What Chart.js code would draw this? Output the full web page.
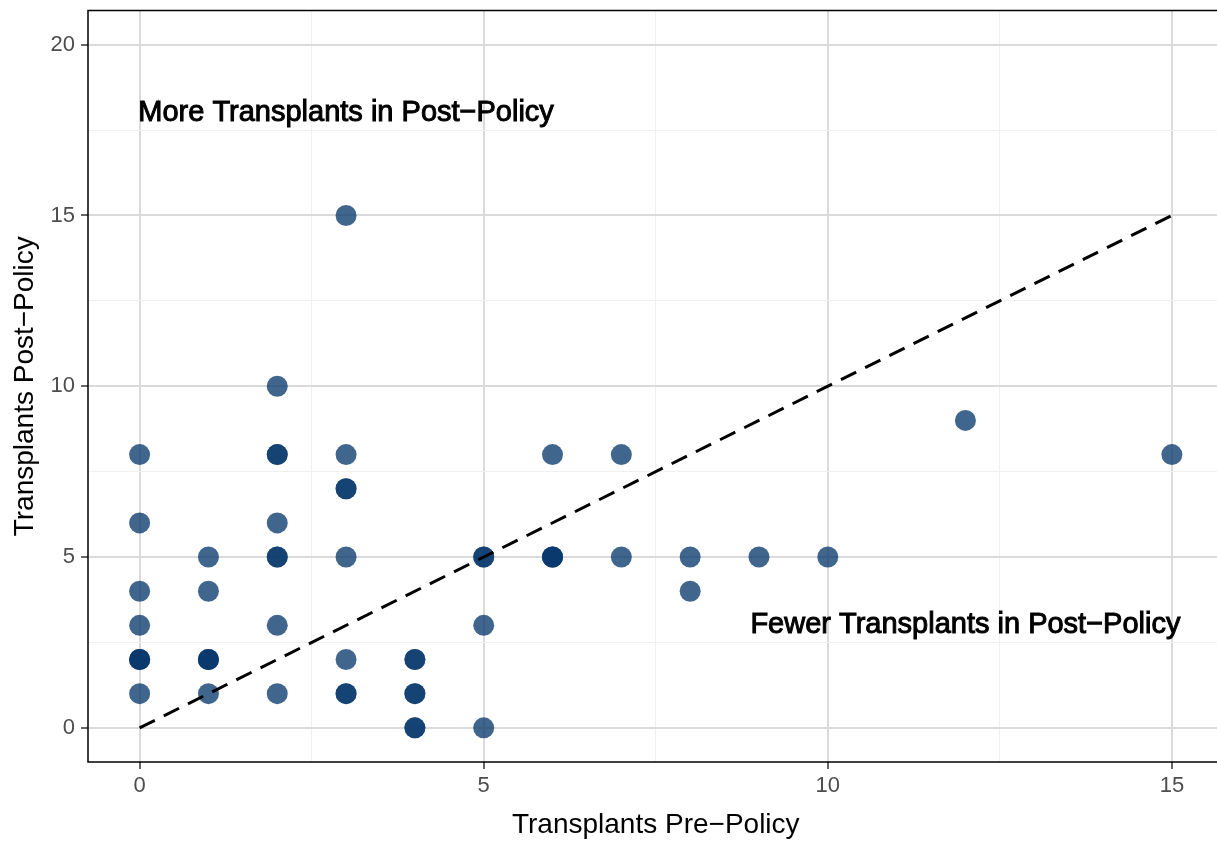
<!DOCTYPE html>
<html>
<head>
<meta charset="utf-8">
<script src="https://cdn.jsdelivr.net/npm/chart.js@4.4.1/dist/chart.umd.min.js"></script>
<style>
  html, body { margin: 0; padding: 0; background: #fff; overflow: hidden; }
  #scatter { display: block; }
</style>
</head>
<body>
<canvas id="scatter" width="1234" height="842"></canvas>
<script>
// transplants per centre, before and after the policy (repeats = overlapping centres)
const prePolicy = [
  0, 0, 0, 0, 0, 0, 0, 0,
  1, 1, 1, 1, 1, 1,
  2, 2, 2, 2, 2, 2, 2, 2,
  3, 3, 3, 3, 3, 3, 3, 3,
  4, 4, 4, 4, 4, 4,
  5, 5, 5, 5,
  6, 6, 6, 6,
  7, 7, 8, 8, 9, 10, 12, 15
];
const postPolicy = [
  8, 6, 4, 3, 2, 2, 2, 1,
  5, 4, 2, 2, 2, 1,
  10, 8, 8, 6, 5, 5, 3, 1,
  15, 8, 7, 7, 5, 2, 1, 1,
  2, 2, 1, 1, 0, 0,
  5, 5, 3, 0,
  8, 5, 5, 5,
  8, 5, 5, 4, 5, 5, 9, 8
];
const refLine = [0, 15];
const xGrid = [0, 2.5, 5, 7.5, 10, 12.5, 15];
const yGrid = [0, 2.5, 5, 7.5, 10, 12.5, 15, 17.5, 20];
const notes = [
  { text: 'More Transplants in Post\u2212Policy', x: 3, y: 18 },
  { text: 'Fewer Transplants in Post\u2212Policy', x: 12, y: 3 }
];

const isMajor = v => v % 5 === 0;
const gridColor = ctx => isMajor(ctx.tick.value) ? '#dadada' : '#f0f0f0';
const gridWidth = ctx => isMajor(ctx.tick.value) ? 2 : 1;
const tickColor = ctx => isMajor(ctx.tick.value) ? '#333333' : 'rgba(0,0,0,0)';
const noPad = s => { s.paddingTop = 0; s.paddingBottom = 0; s.paddingLeft = 0; s.paddingRight = 0; };

const panelBox = {
  id: 'panelBox',
  afterDraw(chart) {
    const { ctx, chartArea: a } = chart;
    ctx.save();
    ctx.strokeStyle = '#000';
    ctx.lineWidth = 1.5;
    ctx.strokeRect(a.left, a.top, a.right - a.left, a.bottom - a.top);
    ctx.restore();
  }
};

const labels = {
  id: 'labels',
  afterDatasetsDraw(chart) {
    const { ctx, scales } = chart;
    ctx.save();
    ctx.font = '29px "Liberation Sans", Arial, sans-serif';
    ctx.fillStyle = '#000';
    ctx.strokeStyle = '#000';
    ctx.lineWidth = 1;
    ctx.textAlign = 'center';
    ctx.textBaseline = 'middle';
    notes.forEach(n => {
      const px = scales.x.getPixelForValue(n.x);
      const py = scales.y.getPixelForValue(n.y);
      ctx.fillText(n.text, px, py);
      ctx.strokeText(n.text, px, py);
    });
    ctx.restore();
  }
};

new Chart(document.getElementById('scatter'), {
  type: 'scatter',
  data: {
    datasets: [
      {
        label: 'No change',
        data: refLine.map(v => ({ x: v, y: v })),
        showLine: true,
        borderColor: '#000',
        borderWidth: 3,
        borderDash: [17, 10],
        pointRadius: 0,
        order: 0
      },
      {
        label: 'Centres',
        data: prePolicy.map((x, i) => ({ x: x, y: postPolicy[i] })),
        backgroundColor: 'rgba(8, 56, 108, 0.77)',
        borderWidth: 0,
        pointRadius: 10.5,
        order: 1
      }
    ]
  },
  options: {
    responsive: false,
    animation: false,
    layout: { padding: { top: 8, right: 0, left: 0, bottom: 0 } },
    plugins: {
      legend: { display: false },
      tooltip: { enabled: false }
    },
    scales: {
      x: {
        type: 'linear',
        min: -0.75,
        max: 15.75,
        afterBuildTicks: s => { s.ticks = xGrid.map(v => ({ value: v })); },
        afterFit: s => { s.height = 80; noPad(s); },
        grid: { color: gridColor, lineWidth: gridWidth, tickColor: tickColor, tickLength: 7, tickWidth: 1.5 },
        border: { display: false },
        ticks: {
          callback: v => isMajor(v) ? String(v) : '',
          color: '#4d4d4d',
          font: { family: '"Liberation Sans", Arial, sans-serif', size: 22 },
          padding: 4,
          maxRotation: 0,
          autoSkip: false
        },
        title: {
          display: true,
          text: 'Transplants Pre\u2212Policy',
          color: '#000',
          font: { family: '"Liberation Sans", Arial, sans-serif', size: 28 },
          padding: { top: 0, bottom: 0 }
        }
      },
      y: {
        type: 'linear',
        min: -1,
        max: 21,
        afterBuildTicks: s => { s.ticks = yGrid.map(v => ({ value: v })); },
        afterFit: s => { s.width = 88; noPad(s); },
        grid: { color: gridColor, lineWidth: gridWidth, tickColor: tickColor, tickLength: 7, tickWidth: 1.5 },
        border: { display: false },
        ticks: {
          callback: v => isMajor(v) ? String(v) : '',
          color: '#4d4d4d',
          font: { family: '"Liberation Sans", Arial, sans-serif', size: 22 },
          padding: 6,
          autoSkip: false
        },
        title: {
          display: true,
          text: 'Transplants Post\u2212Policy',
          color: '#000',
          font: { family: '"Liberation Sans", Arial, sans-serif', size: 28 },
          padding: { top: 8, bottom: 0 }
        }
      }
    }
  },
  plugins: [panelBox, labels]
});
</script>
</body>
</html>
